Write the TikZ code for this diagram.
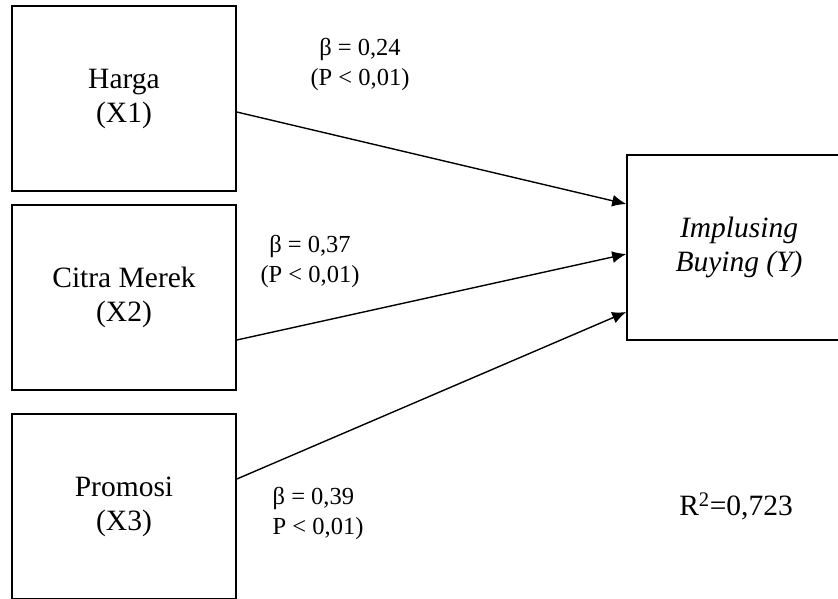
\documentclass[tikz,border=0pt]{standalone}
\usepackage{fontspec}
\setmainfont{Liberation Serif}
\usetikzlibrary{arrows.meta}

\begin{document}
\begin{tikzpicture}[x=1pt,y=-1pt,line width=1.4pt,>={Latex[length=14pt,width=12pt]},
  kotak/.style={draw,line width=1.6pt,minimum width=224pt,minimum height=185pt,
    align=center,font=\fontsize{29.5}{34}\selectfont},
  koef/.style={font=\fontsize{24.5}{30}\selectfont,inner sep=0pt}]
  \clip (0,0) rectangle (838,598);
  % variabel bebas
  \node[kotak] (harga) at (124,98.5) {Harga\\(X1)};
  \node[kotak] (citra) at (124,297.5) {Citra Merek\\(X2)};
  \node[kotak] (promo) at (124,506.5) {Promosi\\(X3)};
  % variabel terikat
  \node[kotak,font=\fontsize{29.5}{34}\selectfont\itshape] (beli) at (739,247.5) {Implusing\\Buying (Y)};
  % jalur
  \draw[->] ([yshift=-13.5pt]harga.east) -- ([yshift=43.5pt]beli.west);
  \draw[->] ([yshift=-42.5pt]citra.east) -- ([yshift=-6.5pt]beli.west);
  \draw[->] ([yshift=27.5pt]promo.east) -- ([yshift=-64.5pt]beli.west);
  % koefisien
  \node[koef,align=center] (k1) at (360,64) {β = 0,24\\(P < 0,01)};
  \node[koef,align=center] (k2) at (310,261) {β = 0,37\\(P < 0,01)};
  \node[koef,align=left,anchor=west] (k3) at (272,513) {β = 0,39\\P < 0,01)};
  \node[font=\fontsize{29.5}{34}\selectfont] (r2) at (736,506) {R\textsuperscript{2}=0,723};
\end{tikzpicture}
\end{document}
